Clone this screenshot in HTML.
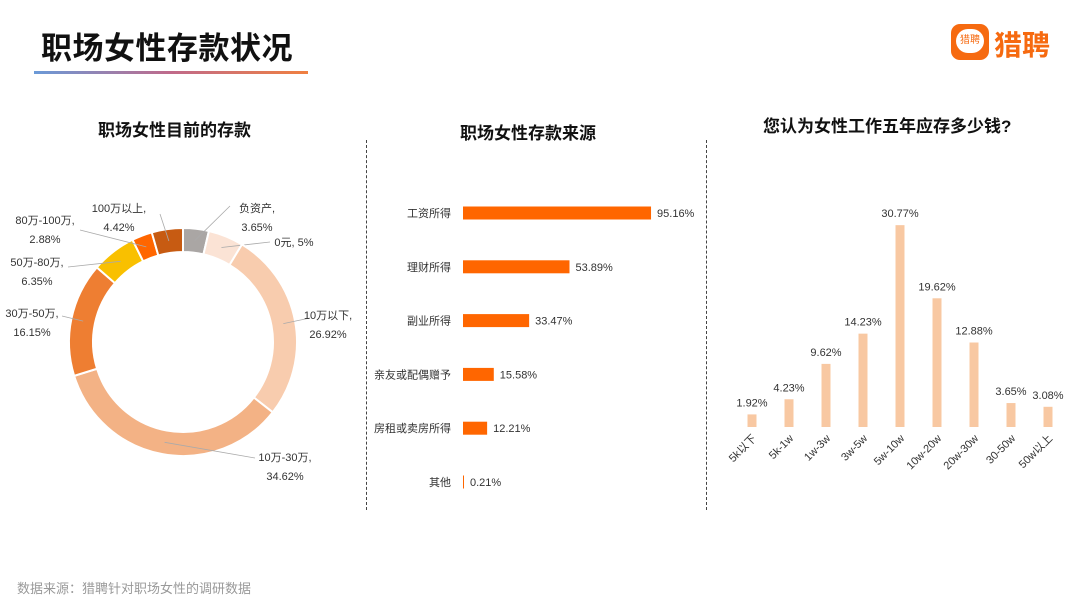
<!DOCTYPE html>
<html><head><meta charset="utf-8">
<style>
body{margin:0;width:1080px;height:608px;background:#fff;overflow:hidden;font-family:"Liberation Sans","Noto Sans CJK SC",sans-serif;position:relative}
.t{position:absolute;white-space:nowrap}
</style></head><body>
<div class="t" style="left:41px;top:23px;font-size:31px;font-weight:bold;color:#111;letter-spacing:0.5px">职场女性存款状况</div>
<div style="position:absolute;left:34px;top:71px;width:274px;height:3px;background:linear-gradient(90deg,#6a9ad8,#c06a8a,#f08040)"></div>
<div style="position:absolute;left:951px;top:24px;width:38px;height:36px;background:#f66a10;border-radius:9px">
 <div style="position:absolute;left:5px;top:5px;width:28px;height:24px;border-radius:13px;background:#fff;color:#f66a10;font-size:10px;line-height:24px;text-align:center">猎聘</div>
</div>
<div class="t" style="left:994px;top:24px;font-size:28px;color:#f66a10;font-weight:bold">猎聘</div>
<div class="t" style="left:98px;top:116px;font-size:17px;font-weight:bold;color:#111">职场女性目前的存款</div>
<div class="t" style="left:460px;top:119px;font-size:17px;font-weight:bold;color:#111">职场女性存款来源</div>
<div class="t" style="left:763px;top:112px;font-size:17px;font-weight:bold;color:#111">您认为女性工作五年应存多少钱?</div>
<div style="position:absolute;left:366px;top:140px;height:370px;border-left:1px dashed #444"></div>
<div style="position:absolute;left:706px;top:140px;height:370px;border-left:1px dashed #444"></div>
<div class="t" style="left:17px;top:578px;font-size:13px;color:#999">数据来源：猎聘针对职场女性的调研数据</div>
<svg id="s" width="1080" height="608" style="position:absolute;left:0;top:0" font-family="Liberation Sans, Noto Sans CJK SC, sans-serif"></svg>
<script>
const pieCats=["负资产","0元","10万以下","10万-30万","30万-50万","50万-80万","80万-100万","100万以上"];
const pieVals=[3.65,5,26.92,34.62,16.15,6.35,2.88,4.42];
const pieColors=["#aaa6a4","#fbe3d5","#f8ccae","#f3b285","#ee7e32","#f9c000","#ff6600","#c75b12"];
const srcCats=["工资所得","理财所得","副业所得","亲友或配偶赠予","房租或卖房所得","其他"];
const srcVals=[95.16,53.89,33.47,15.58,12.21,0.21];
const colCats=["5k以下","5k-1w","1w-3w","3w-5w","5w-10w","10w-20w","20w-30w","30-50w","50w以上"];
const colVals=[1.92,4.23,9.62,14.23,30.77,19.62,12.88,3.65,3.08];
const S=document.getElementById('s');const NS="http://www.w3.org/2000/svg";
function mk(t,a,txt){const e=document.createElementNS(NS,t);for(const k in a)e.setAttribute(k,a[k]);if(txt!==undefined)e.textContent=txt;S.appendChild(e);return e;}
// donut
const cx=183,cy=342,R=114,r=90;let acc=0;const tot=pieVals.reduce((a,b)=>a+b,0);
const labelPos=[[257,212,"middle",230,206],[294,246,"middle",270,242],[328,319,"middle",310,318],[285,461,"middle",255,458],[32,317,"middle",62,316],[37,266,"middle",68,267],[45,224,"middle",80,230],[119,212,"middle",160,214]];
pieVals.forEach((v,i)=>{const a0=acc/tot*2*Math.PI;acc+=v;const a1=acc/tot*2*Math.PI;
 const p=(a,rr)=>[cx+rr*Math.sin(a),cy-rr*Math.cos(a)];const [x0,y0]=p(a0,R),[x1,y1]=p(a1,R),[x2,y2]=p(a1,r),[x3,y3]=p(a0,r);const lg=(a1-a0)>Math.PI?1:0;
 const e=mk('path',{d:`M${x0},${y0}A${R},${R} 0 ${lg} 1 ${x1},${y1}L${x2},${y2}A${r},${r} 0 ${lg} 0 ${x3},${y3}Z`,fill:pieColors[i],stroke:'#fff','stroke-width':2});
 
 
 const am=(a0+a1)/2;const [mx,my]=p(am,(R+r)/2);const L=labelPos[i];
 const ln=mk('line',{x1:mx,y1:my,x2:L[3],y2:L[4],stroke:'#aaa','stroke-width':0.8});
 
 
 const t=mk('text',{x:L[0],y:L[1],'font-size':11,fill:'#333','text-anchor':L[2]});
 
 
 const s1=document.createElementNS(NS,'tspan');s1.setAttribute('x',L[0]);s1.textContent=pieCats[i]+",";t.appendChild(s1);
 const s2=document.createElementNS(NS,'tspan');s2.setAttribute('x',L[0]);s2.setAttribute('dy',19);s2.textContent=pieVals[i]+"%";
 if(i==1){s1.textContent=pieCats[i]+", "+pieVals[i]+"%";}else t.appendChild(s2);
});
// source bars
const bx=463,bs=1.976,by0=213,bstep=53.8;
srcVals.forEach((v,i)=>{const y=by0+i*bstep;const w=Math.max(1,v*bs);
 const b=mk('rect',{x:bx,y:y-6.5,width:w,height:13,fill:'#ff6600'});
 
 
 const c=mk('text',{x:451,y:y+4,'font-size':11,fill:'#333','text-anchor':'end'},srcCats[i]);
 
 
 const l=mk('text',{x:bx+w+6,y:y+4,'font-size':11,fill:'#333'},v.toFixed(2)+"%");
 
 
});
// column chart
const cx0=752,cstep=37,base=427,cs=6.56;
colVals.forEach((v,i)=>{const x=cx0+i*cstep;const h=v*cs;
 const b=mk('rect',{x:x-4.5,y:base-h,width:9,height:h,fill:'#f8c8a2'});
 
 
 const l=mk('text',{x:x,y:base-h-8,'font-size':11,fill:'#333','text-anchor':'middle'},v.toFixed(2)+"%");
 
 
 const c=mk('text',{x:x+5,y:base+12,'font-size':11,fill:'#333','text-anchor':'end',transform:`rotate(-45 ${x+5} ${base+12})`},colCats[i]);
 
 
});
</script>
</body></html>
